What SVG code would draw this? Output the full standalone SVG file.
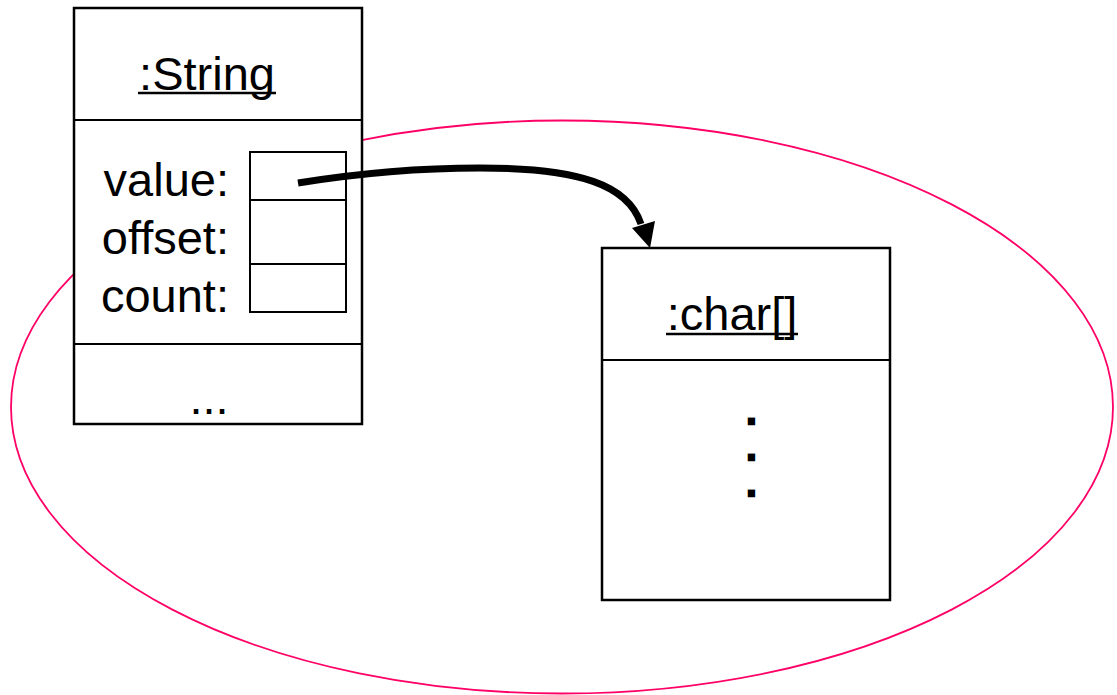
<svg xmlns="http://www.w3.org/2000/svg" width="1117" height="695" viewBox="0 0 1117 695">
<style>
.box{fill:#fff;stroke:#000;stroke-width:2.5}
.ln{stroke:#000;stroke-width:2;fill:none}
.t{font-family:"Liberation Sans",Arial,sans-serif;font-size:47px;fill:#000}
.u{stroke:#000;stroke-width:2.5}
.dot{font-family:"Liberation Sans",Arial,sans-serif;font-size:30px;fill:#000;stroke:#000;stroke-width:4.5;stroke-linejoin:miter}
</style>
<rect width="1117" height="695" fill="#fff"/>
<ellipse id="scope" cx="562" cy="407" rx="551" ry="286.5" fill="none" stroke="#ff0066" stroke-width="1.8"/>
<g id="string">
<rect class="box" x="74" y="8" width="288" height="416"/>
<line class="ln" x1="74" y1="120" x2="362" y2="120"/>
<line class="ln" x1="74" y1="344" x2="362" y2="344"/>
<text class="t" x="207" y="90" text-anchor="middle">:String</text>
<line class="u" x1="138" y1="93" x2="276" y2="93"/>
<text class="t" x="229" y="196" text-anchor="end">value:</text>
<text class="t" x="229" y="254" text-anchor="end">offset:</text>
<text class="t" x="229" y="312" text-anchor="end">count:</text>
<rect x="250" y="152" width="96" height="160" fill="#fff" stroke="#000" stroke-width="2"/>
<line class="ln" x1="250" y1="200" x2="346" y2="200"/>
<line class="ln" x1="250" y1="264" x2="346" y2="264"/>
<text class="t" x="209" y="414" text-anchor="middle">...</text>
</g>
<g id="chararray">
<rect class="box" x="602" y="248" width="288" height="352"/>
<line class="ln" x1="602" y1="360" x2="890" y2="360"/>
<text class="t" x="732" y="330" text-anchor="middle">:char[]</text>
<line class="u" x1="666" y1="334" x2="798" y2="334"/>
<text class="dot" x="751.5" y="423" text-anchor="middle">.</text>
<text class="dot" x="751.5" y="459" text-anchor="middle">.</text>
<text class="dot" x="751.5" y="495" text-anchor="middle">.</text>
</g>
<g id="connectors">
<path d="M298,183 C360,173 420,168 480,168 C580,168 628,185 641,224" fill="none" stroke="#000" stroke-width="7"/>
<polygon points="632,228 655,221 650,248" fill="#000"/>
</g>
</svg>
